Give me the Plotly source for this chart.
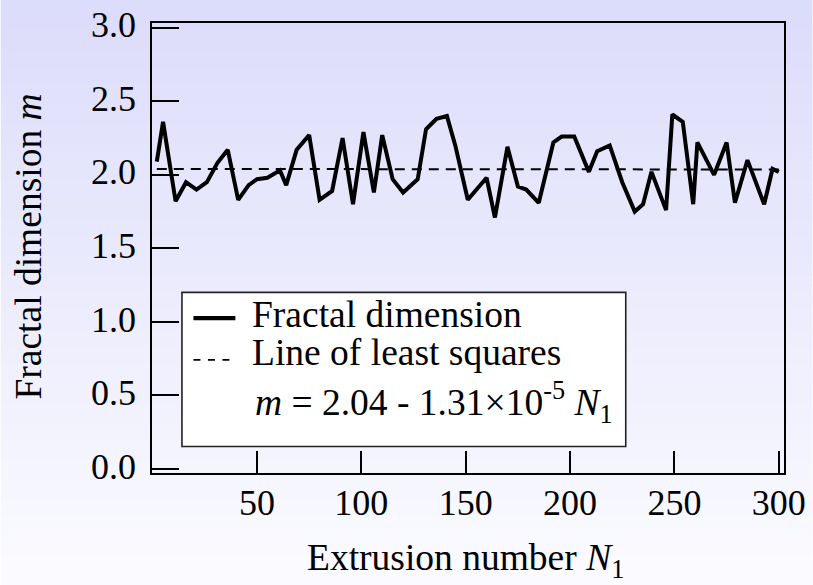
import plotly.graph_objects as go

# ---- data ----
extrusion_n = [2, 5, 11, 16, 21, 26, 31, 36, 41, 46,
               50, 55, 61, 64, 69, 75, 80, 86, 91, 96,
               101, 106, 110, 115, 120, 127, 131, 136, 141, 145,
               151, 160, 164, 170, 175, 179, 185, 192, 196, 202,
               209, 213, 219, 225, 231, 235, 239, 246, 249, 254,
               259, 261, 269, 275, 279, 285, 293, 297, 300]
fractal_m = [2.09, 2.36, 1.82, 1.95, 1.90, 1.95, 2.08, 2.17, 1.83, 1.93,
             1.97, 1.98, 2.03, 1.93, 2.17, 2.27, 1.83, 1.89, 2.25, 1.80,
             2.29, 1.88, 2.27, 1.97, 1.88, 1.97, 2.31, 2.38, 2.40, 2.20,
             1.83, 1.98, 1.71, 2.19, 1.92, 1.90, 1.81, 2.22, 2.26, 2.26,
             2.02, 2.16, 2.20, 1.95, 1.75, 1.80, 2.02, 1.76, 2.41, 2.36,
             1.80, 2.22, 2.00, 2.22, 1.81, 2.10, 1.80, 2.04, 2.02]
fit_intercept = 2.04
fit_slope = -1.31e-5
x_ticks = [50, 100, 150, 200, 250, 300]
y_ticks = [0.0, 0.5, 1.0, 1.5, 2.0, 2.5, 3.0]
y_tick_labels = ["0.0", "0.5", "1.0", "1.5", "2.0", "2.5", "3.0"]

fit_x = [extrusion_n[0], extrusion_n[-1]]
fit_y = [fit_intercept + fit_slope * v for v in fit_x]

# ---- layout geometry (pixels) ----
W, H = 813, 585
L, R, T, B = 151.5, 784.5, 23.3, 473.0
FONT = "Liberation Serif, Times New Roman, serif"
TEXT_SIZE = 37.5


def px(xp):
    return (xp - L) / (R - L)


def py(yp):
    return (B - yp) / (B - T)


fig = go.Figure()
fig.add_trace(go.Scatter(x=extrusion_n, y=fractal_m, mode="lines",
                         line=dict(color="black", width=4),
                         name="Fractal dimension", showlegend=False))
fig.add_trace(go.Scatter(x=fit_x, y=fit_y, mode="lines",
                         line=dict(color="black", width=2, dash="10px,7px"),
                         name="Line of least squares", showlegend=False))

shapes = []
# vertical background gradient (lavender top -> near white bottom)
n_bands = 117
top_c = (220, 220, 251)
bot_c = (251, 251, 255)
for i in range(n_bands):
    f = i / (n_bands - 1)
    c = tuple(round(top_c[k] + (bot_c[k] - top_c[k]) * f) for k in range(3))
    y0p = H * i / n_bands
    y1p = H * (i + 1) / n_bands + 0.6
    shapes.append(dict(type="rect", xref="paper", yref="paper", layer="below",
                       x0=px(0), x1=px(W), y0=py(y1p), y1=py(y0p),
                       fillcolor="rgb(%d,%d,%d)" % c, line=dict(width=0)))

# legend box
shapes.append(dict(type="rect", xref="paper", yref="paper", layer="above",
                   x0=px(181.5), x1=px(626), y0=py(446.5), y1=py(292.5),
                   fillcolor="white", line=dict(color="#222222", width=1.6)))
shapes.append(dict(type="line", xref="paper", yref="paper", layer="above",
                   x0=px(193), x1=px(235), y0=py(318.3), y1=py(318.3),
                   line=dict(color="black", width=4.2)))
shapes.append(dict(type="line", xref="paper", yref="paper", layer="above",
                   x0=px(193), x1=px(231), y0=py(360), y1=py(360),
                   line=dict(color="black", width=1.6, dash="7px,7.5px")))

tf = dict(family=FONT, size=TEXT_SIZE, color="black")
annotations = [
    dict(text="Fractal dimension", x=px(250), y=py(315), xref="paper", yref="paper",
         xanchor="left", yanchor="middle", showarrow=False, font=tf),
    dict(text="Line of least squares", x=px(250), y=py(353), xref="paper", yref="paper",
         xanchor="left", yanchor="middle", showarrow=False, font=tf),
    dict(text="<i>m</i> = 2.04 - 1.31×10<sup>-5</sup> <i>N</i><sub>1</sub>",
         x=px(253), y=py(403), xref="paper", yref="paper",
         xanchor="left", yanchor="middle", showarrow=False, font=tf),
    dict(text="Extrusion number <i>N</i><sub>1</sub>", x=px(465), y=py(560),
         xref="paper", yref="paper", xanchor="center", yanchor="middle",
         showarrow=False, font=tf),
    dict(text="Fractal dimension <i>m</i>", x=px(28), y=py(247), textangle=-90,
         xref="paper", yref="paper", xanchor="center", yanchor="middle",
         showarrow=False, font=tf),
]

fig.update_layout(
    width=W, height=H,
    margin=dict(l=L, r=W - R, t=T, b=H - B, pad=0),
    paper_bgcolor="rgba(0,0,0,0)", plot_bgcolor="rgba(0,0,0,0)",
    font=dict(family=FONT, size=36, color="black"),
    shapes=shapes, annotations=annotations, showlegend=False,
    xaxis=dict(range=[-0.3, 302.5], tickvals=x_ticks, ticks="inside", ticklen=22,
               tickwidth=1.8, tickcolor="black", showline=True, linecolor="black",
               linewidth=1.8, mirror=True, showgrid=False, zeroline=False,
               automargin=False, ticklabelstandoff=-3,
               tickfont=dict(family=FONT, size=36, color="black")),
    yaxis=dict(range=[-0.027, 3.032], tickvals=y_ticks, ticktext=y_tick_labels,
               ticks="inside", ticklen=27, tickwidth=1.8, tickcolor="black",
               showline=True, linecolor="black", linewidth=1.8, mirror=True,
               showgrid=False, zeroline=False, automargin=False,
               ticklabelstandoff=7, ticklabelshift=-3,
               tickfont=dict(family=FONT, size=36, color="black")),
)

fig.write_html("out.html")
